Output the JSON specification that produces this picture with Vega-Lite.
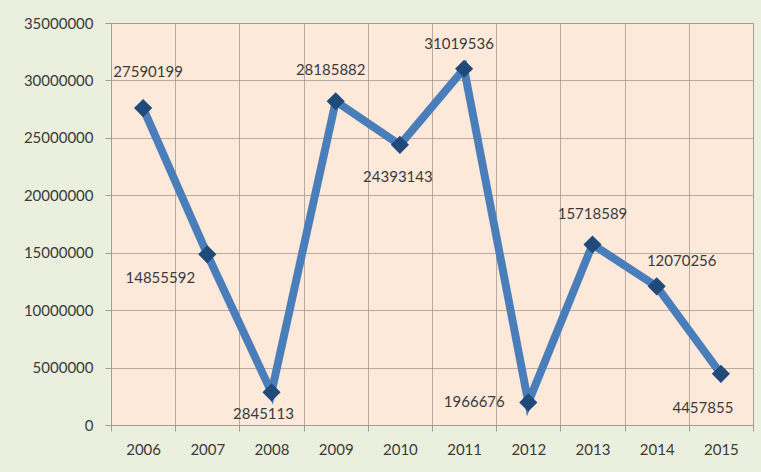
{
  "$schema": "https://vega.github.io/schema/vega-lite/v6.json",
  "width": 642,
  "height": 402,
  "autosize": {"type": "none"},
  "padding": {"left": 111, "top": 23, "right": 8, "bottom": 47},
  "background": "#EAF0DD",
  "config": {
    "view": {"fill": "#FDE9DA", "stroke": "#A89A90", "strokeWidth": 1},
    "font": "Lato",
    "axis": {
      "labelFont": "Lato",
      "labelFontSize": 15,
      "labelColor": "#3A3A3A",
      "gridColor": "#A89A90",
      "gridOpacity": 0.8,
      "domainColor": "#A89A90",
      "tickColor": "#A89A90",
      "tickSize": 6,
      "title": null
    }
  },
  "data": {
    "values": [
      {"year": "2006", "value": 27590199},
      {"year": "2007", "value": 14855592},
      {"year": "2008", "value": 2845113},
      {"year": "2009", "value": 28185882},
      {"year": "2010", "value": 24393143},
      {"year": "2011", "value": 31019536},
      {"year": "2012", "value": 1966676},
      {"year": "2013", "value": 15718589},
      {"year": "2014", "value": 12070256},
      {"year": "2015", "value": 4457855}
    ]
  },
  "encoding": {
    "x": {
      "field": "year",
      "type": "ordinal",
      "bandPosition": 0.5,
      "scale": {"type": "band", "paddingInner": 0, "paddingOuter": 0},
      "axis": {"labelAngle": 0, "tickBand": "extent", "grid": true, "labelPadding": 11, "domain": true}
    },
    "y": {
      "field": "value",
      "type": "quantitative",
      "scale": {"domain": [0, 35000000], "nice": false},
      "axis": {"values": [0, 5000000, 10000000, 15000000, 20000000, 25000000, 30000000, 35000000], "format": "d", "labelPadding": 12, "grid": true, "domain": false}
    }
  },
  "layer": [
    {"mark": {"type": "line", "color": "#4A7EBB", "strokeWidth": 8, "strokeJoin": "miter", "strokeCap": "butt"}},
    {"mark": {"type": "point", "shape": "diamond", "filled": true, "size": 330, "color": "#1F4A7A", "opacity": 1}},
    {"transform": [{"filter": "datum.year == '2006'"}], "mark": {"type": "text", "dx": 5, "dy": -36, "fontSize": 15, "color": "#3A3A3A"}, "encoding": {"text": {"field": "value", "type": "quantitative", "format": "d"}}},
    {"transform": [{"filter": "datum.year == '2007'"}], "mark": {"type": "text", "dx": -47, "dy": 24, "fontSize": 15, "color": "#3A3A3A"}, "encoding": {"text": {"field": "value", "type": "quantitative", "format": "d"}}},
    {"transform": [{"filter": "datum.year == '2008'"}], "mark": {"type": "text", "dx": -8, "dy": 22, "fontSize": 15, "color": "#3A3A3A"}, "encoding": {"text": {"field": "value", "type": "quantitative", "format": "d"}}},
    {"transform": [{"filter": "datum.year == '2009'"}], "mark": {"type": "text", "dx": -5, "dy": -31, "fontSize": 15, "color": "#3A3A3A"}, "encoding": {"text": {"field": "value", "type": "quantitative", "format": "d"}}},
    {"transform": [{"filter": "datum.year == '2010'"}], "mark": {"type": "text", "dx": -2, "dy": 32, "fontSize": 15, "color": "#3A3A3A"}, "encoding": {"text": {"field": "value", "type": "quantitative", "format": "d"}}},
    {"transform": [{"filter": "datum.year == '2011'"}], "mark": {"type": "text", "dx": -5, "dy": -25, "fontSize": 15, "color": "#3A3A3A"}, "encoding": {"text": {"field": "value", "type": "quantitative", "format": "d"}}},
    {"transform": [{"filter": "datum.year == '2012'"}], "mark": {"type": "text", "dx": -54, "dy": 0, "fontSize": 15, "color": "#3A3A3A"}, "encoding": {"text": {"field": "value", "type": "quantitative", "format": "d"}}},
    {"transform": [{"filter": "datum.year == '2013'"}], "mark": {"type": "text", "dx": 0, "dy": -30, "fontSize": 15, "color": "#3A3A3A"}, "encoding": {"text": {"field": "value", "type": "quantitative", "format": "d"}}},
    {"transform": [{"filter": "datum.year == '2014'"}], "mark": {"type": "text", "dx": 25, "dy": -25, "fontSize": 15, "color": "#3A3A3A"}, "encoding": {"text": {"field": "value", "type": "quantitative", "format": "d"}}},
    {"transform": [{"filter": "datum.year == '2015'"}], "mark": {"type": "text", "dx": -18, "dy": 34, "fontSize": 15, "color": "#3A3A3A"}, "encoding": {"text": {"field": "value", "type": "quantitative", "format": "d"}}}
  ]
}
